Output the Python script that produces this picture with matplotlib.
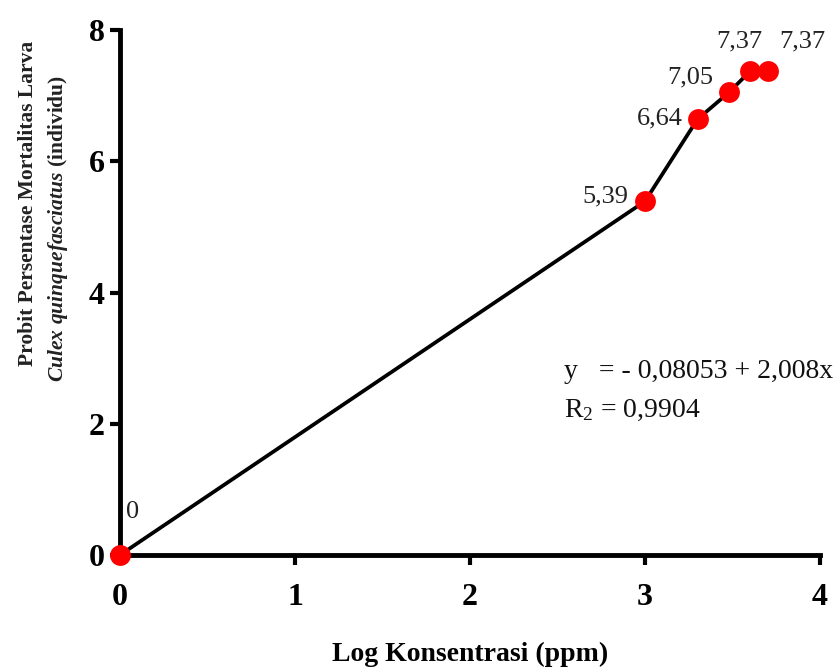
import matplotlib
matplotlib.use("Agg")
import matplotlib.pyplot as plt

# data
log_conc = [0, 3.0, 3.30, 3.48, 3.60, 3.70]
probit = [0, 5.39, 6.64, 7.05, 7.37, 7.37]
point_labels = ["0", "5,39", "6,64", "7,05", "7,37", "7,37"]
x_ticks = [0, 1, 2, 3, 4]
y_ticks = [0, 2, 4, 6, 8]

# label offsets in pixels and alignment per point
label_offsets = [(13, 43), (-17, 5), (-15, 1), (-16, 15), (-11, 30), (35, 30)]
label_ha = ["center", "right", "right", "right", "center", "center"]

plt.rcParams["font.family"] = ["Liberation Serif", "DejaVu Serif"]
plt.rcParams["mathtext.fontset"] = "custom"
plt.rcParams["mathtext.rm"] = "Liberation Serif:bold"
plt.rcParams["mathtext.it"] = "Liberation Serif:italic:bold"

fig = plt.figure(figsize=(8.4, 6.68), dpi=100)
ax = fig.add_axes([120 / 840, 1 - 555 / 668, 700 / 840, 525 / 668])

ax.plot(log_conc, probit, color="black", lw=2.7, zorder=2, clip_on=False)
ax.plot(log_conc, probit, "o", color="#ff0000", ms=15, mec="none",
        zorder=3, clip_on=False)

for x, y, lab, off, ha in zip(log_conc, probit, point_labels, label_offsets, label_ha):
    ax.annotate(lab, (x, y), xytext=off, textcoords="offset pixels",
                ha=ha, va="center", fontsize=19, color="#222222")

ax.text(2.54, 2.79, "y   = - 0,08053 + 2,008x", fontsize=20, va="center", color="#111111")
ax.text(2.54, 2.21, "R$_{\\mathregular{2}}$ = 0,9904", fontsize=20, va="center",
        color="#111111")

ax.set_xlim(0, 4)
ax.set_ylim(0, 8)
ax.set_xticks(x_ticks)
ax.set_yticks(y_ticks)
for lab in ax.get_xticklabels() + ax.get_yticklabels():
    lab.set_fontweight("bold")
    lab.set_fontsize(23)

ax.spines["top"].set_visible(False)
ax.spines["right"].set_visible(False)
for s in ["left", "bottom"]:
    ax.spines[s].set_linewidth(3.5)
ax.tick_params(direction="out", length=7, width=3)
ax.tick_params(axis="x", pad=13)
ax.tick_params(axis="y", pad=4)

ax.set_xlabel("Log Konsentrasi (ppm)", fontsize=20, fontweight="bold", labelpad=22)

fig.text(28 / 840, 1 - 203 / 668, "Probit Persentase Mortalitas Larva",
         rotation=90, ha="center", va="center", fontsize=15.5, fontweight="bold",
         color="#222222")
fig.text(58 / 840, 1 - 228 / 668,
         r"$\mathit{Culex\ quinquefasciatus}$ (individu)",
         rotation=90, ha="center", va="center", fontsize=15.5, fontweight="bold",
         color="#222222")

fig.savefig("out.png", dpi=100)
